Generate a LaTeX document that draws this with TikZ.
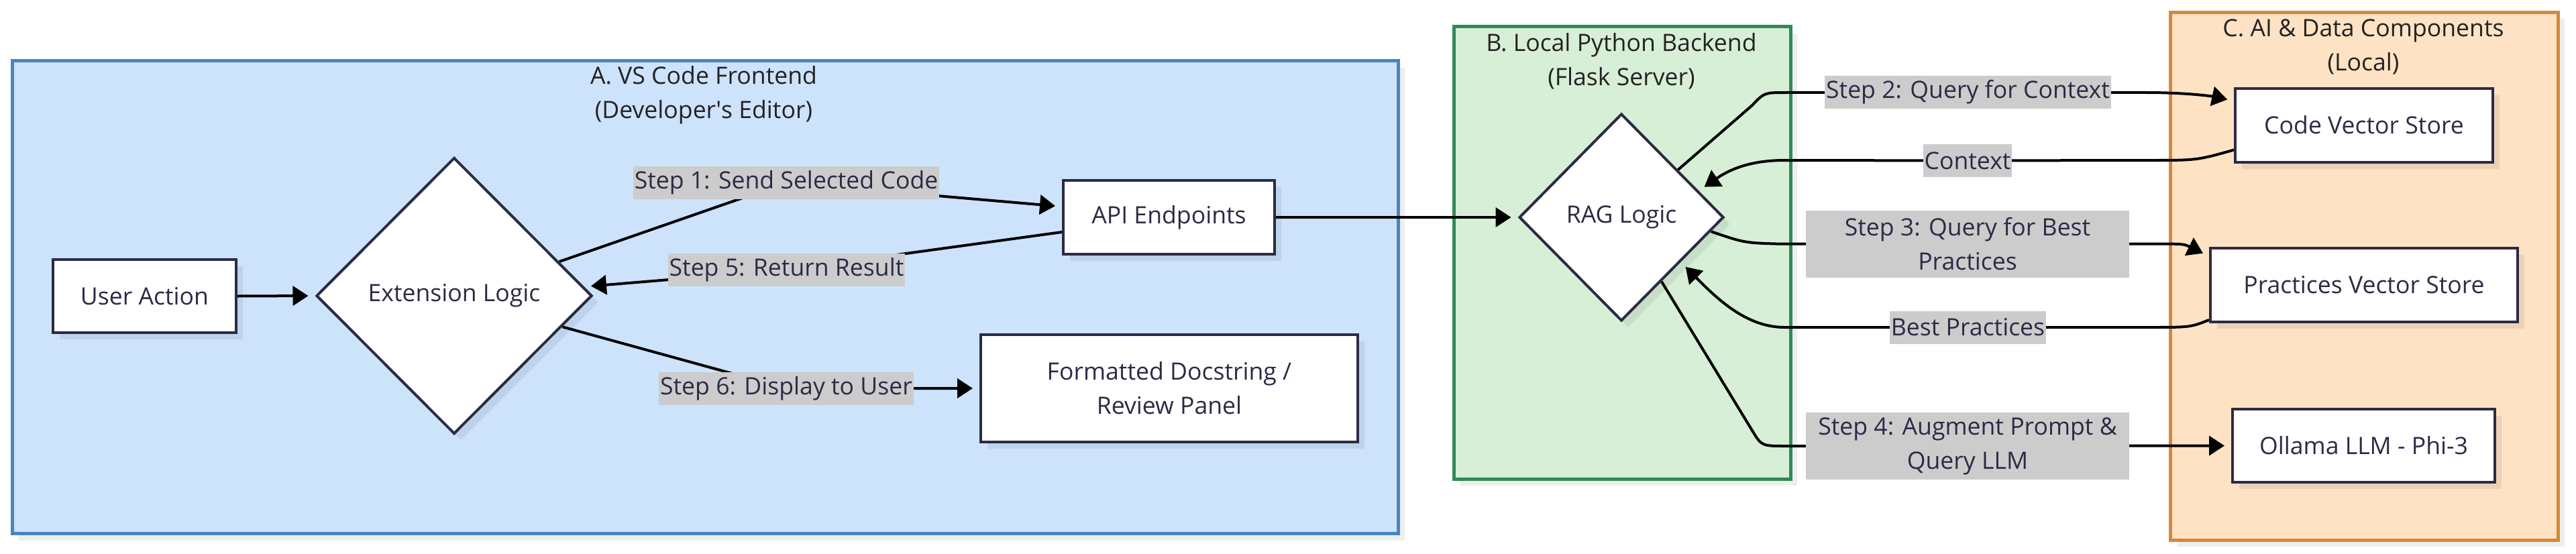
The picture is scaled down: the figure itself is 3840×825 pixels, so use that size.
\documentclass[tikz,border=0pt]{standalone}
\usepackage{fontspec}
\setmainfont{Open Sans}
\usetikzlibrary{arrows.meta,shapes.geometric,calc,shadows}
\definecolor{blueFill}{HTML}{CDE3FB}
\definecolor{blueDraw}{HTML}{4A86BE}
\definecolor{greenFill}{HTML}{D7EFD6}
\definecolor{greenDraw}{HTML}{2E8B57}
\definecolor{orangeFill}{HTML}{FDE3C4}
\definecolor{orangeDraw}{HTML}{D4883C}
\definecolor{nodeDraw}{HTML}{2B2B45}
\definecolor{textCol}{HTML}{2B2B45}
\definecolor{labelFill}{HTML}{CCCCCC}
\definecolor{titleCol}{HTML}{222222}
\newcommand\diagfont{\fontsize{17.8}{25.5}\selectfont}
\pgfdeclarelayer{bglayer}
\pgfdeclarelayer{edgelayer}
\pgfsetlayers{bglayer,edgelayer,main}
\tikzset{
  cluster/.style={rectangle, line width=2.5pt, inner sep=0pt,
    drop shadow={shadow xshift=5pt, shadow yshift=-5pt, opacity=0.065, fill=black}},
  ctitle/.style={font=\diagfont, text=titleCol, align=center, inner sep=0pt},
  box/.style={rectangle, draw=nodeDraw, line width=2pt, fill=white, inner sep=0pt,
    font=\diagfont, text=textCol, align=center,
    drop shadow={shadow xshift=5pt, shadow yshift=-5pt, opacity=0.07, fill=black}},
  dia/.style={diamond, draw=nodeDraw, line width=2pt, fill=white, inner sep=0pt,
    font=\diagfont, text=textCol,
    drop shadow={shadow xshift=5pt, shadow yshift=-5pt, opacity=0.07, fill=black}},
  lbl/.style={rectangle, fill=labelFill, inner xsep=1pt, inner ysep=0pt,
    minimum height=24.5pt, font=\diagfont, text=textCol, align=center},
  edge/.style={line width=2pt, draw=black, -{Triangle[length=11.5pt,width=14.5pt]},
    shorten >=5pt}
}
\begin{document}
\begin{tikzpicture}[x=0.5pt,y=-0.5pt]
\useasboundingbox (0,0) rectangle (3840,825);
\begin{pgfonlayer}{bglayer}
\fill[white] (0,0) rectangle (3840,825);
\node[cluster, fill=blueFill, draw=blueDraw, minimum width=1033pt, minimum height=352.5pt] (cA) at (1051,443) {};
\node[cluster, fill=greenFill, draw=greenDraw, minimum width=251pt, minimum height=337.25pt] (cB) at (2418,376.75) {};
\node[cluster, fill=orangeFill, draw=orangeDraw, minimum width=289pt, minimum height=393.3pt] (cC) at (3524,411.7) {};
\node[ctitle] (tA) at (1049,141.5) {A. VS Code Frontend\\(Developer\textquotesingle s Editor)};
\node[ctitle] (tB) at (2417,91.5) {B. Local Python Backend\\(Flask Server)};
\node[ctitle] (tC) at (3523,70) {C. AI \& Data Components\\(Local)};
\end{pgfonlayer}

% nodes
\node[box, minimum width=136.5pt, minimum height=54.5pt] (ua) at (215.5,441.5) {User Action};
\node[dia, minimum width=205.5pt, minimum height=206pt] (ext) at (677,441) {Extension Logic};
\node[box, minimum width=157.5pt, minimum height=55pt] (api) at (1742.5,324) {API Endpoints};
\node[box, minimum width=281pt, minimum height=80pt] (fmt) at (1743,579) {Formatted Docstring /\\Review Panel};
\node[dia, minimum width=152.5pt, minimum height=154.5pt] (rag) at (2417,324) {RAG Logic};
\node[box, minimum width=192pt, minimum height=55pt] (cvs) at (3524,186.5) {Code Vector Store};
\node[box, minimum width=229pt, minimum height=55pt] (pvs) at (3524,425) {Practices Vector Store};
\node[box, minimum width=195.5pt, minimum height=54.5pt] (oll) at (3523.5,664.5) {Ollama LLM - Phi-3};

% edge labels
\node[lbl] (l1) at (1172,272.5) {Step 1: Send Selected Code};
\node[lbl] (l5) at (1172.5,402.5) {Step 5: Return Result};
\node[lbl] (l6) at (1172,579) {Step 6: Display to User};
\node[lbl] (l2) at (2933.5,137) {Step 2: Query for Context};
\node[lbl] (lc) at (2933,239.5) {Context};
\node[lbl, minimum width=241pt, minimum height=50pt] (l3) at (2933,363.6) {Step 3: Query for Best\\Practices};
\node[lbl] (lb) at (2933.5,488) {Best Practices};
\node[lbl, minimum width=241pt, minimum height=50pt] (l4) at (2933,665) {Step 4: Augment Prompt \&\\Query LLM};

% edges
\begin{pgfonlayer}{edgelayer}
\draw[edge] (ua.east) -- (ext.west);
\draw[edge] (ext.18) -- (l1.center) -- ($(api.west)+(0,-16)$);
\draw[edge] ($(api.west)+(0,22)$) -- (l5.center) -- (ext.4);
\draw[edge] (ext.344) -- (l6.center) -- (fmt.west);
\draw[edge] (api.east) -- (rag.west);
\draw[edge] (rag.40) -- (2612,157) .. controls (2630,138) .. (2662,138) -- (l2.center) -- (3200,138) .. controls (3262,138) and (3300,144) .. ($(cvs.west)+(0,-36)$);
\draw[edge] ($(cvs.south west)+(0,-20)$) .. controls (3275,239) .. (3205,239) -- (lc.center) -- (2660,239) .. controls (2605,239) and (2575,255) .. (rag.19);
\draw[edge] (rag.351) .. controls (2600,362) .. (2650,363.6) -- (l3.center) -- (3213,363.6) .. controls (3255,363.6) .. ($(pvs.north west)+(0,14)$);
\draw[edge] ($(pvs.south west)+(0,-5)$) .. controls (3265,488) .. (3205,488) -- (lb.center) -- (2660,488) .. controls (2605,488) and (2562,448) .. (rag.323);
\draw[edge] (rag.302) -- (2612,642) .. controls (2626,665) .. (2662,665) -- (l4.center) -- (oll.west);
\end{pgfonlayer}
\end{tikzpicture}
\end{document}
